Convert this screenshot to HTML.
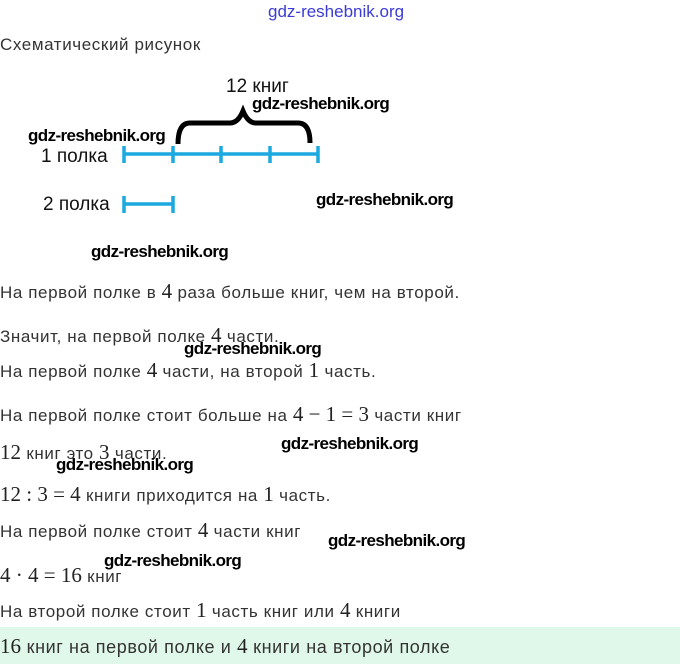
<!DOCTYPE html>
<html><head><meta charset="utf-8"><style>
body{margin:0;width:680px;height:664px;background:#fff;position:relative;overflow:hidden;font-family:"Liberation Sans","DejaVu Sans",sans-serif;color:#333}
.t{position:absolute;left:0;font-size:17px;letter-spacing:0.6px;white-space:nowrap;line-height:20px}
.m{font-family:"Liberation Serif","DejaVu Serif",serif;font-size:21px;color:#222;letter-spacing:0}
.w{position:absolute;font-family:"Liberation Sans",sans-serif;font-size:17px;font-weight:bold;color:#000;white-space:nowrap;line-height:20px;letter-spacing:-0.6px}
.d{position:absolute;font-size:19px;color:#111;white-space:nowrap;line-height:20px}
</style></head><body>
<div class="w" style="left:268px;top:2px;color:#3b3bd6;font-weight:normal;letter-spacing:0">gdz-reshebnik.org</div>
<div class="t" style="top:35px">Схематический рисунок</div>
<div class="d" style="left:226px;top:77px">12 книг</div>
<div class="w" style="left:252px;top:94px">gdz-reshebnik.org</div>
<div class="w" style="left:28px;top:126px">gdz-reshebnik.org</div>
<div class="d" style="left:41px;top:147px">1 полка</div>
<div class="d" style="left:43px;top:195px">2 полка</div>
<div class="w" style="left:316px;top:190px">gdz-reshebnik.org</div>
<div class="w" style="left:91px;top:242px">gdz-reshebnik.org</div>
<svg style="position:absolute;left:0;top:0" width="680" height="664">
<g stroke="#1ba9e0" stroke-width="3.5" fill="none">
<line x1="123" y1="154" x2="318" y2="154"/>
<line x1="124" y1="146" x2="124" y2="163"/>
<line x1="173" y1="146" x2="173" y2="163"/>
<line x1="221" y1="146" x2="221" y2="163"/>
<line x1="270" y1="146" x2="270" y2="163"/>
<line x1="318" y1="146" x2="318" y2="163"/>
<line x1="123" y1="204" x2="173" y2="204"/>
<line x1="124" y1="196" x2="124" y2="213"/>
<line x1="173" y1="196" x2="173" y2="213"/>
</g>
<path d="M178 144 Q178 123 190 123 L230 123 Q238 123 243 111 Q248 123 256 123 L298 123 Q310 123 310 143" stroke="#000" stroke-width="5" fill="none"/>
</svg>
<div class="t" style="top:281px">На первой полке в <span class="m">4</span> раза больше книг, чем на второй.</div>
<div class="t" style="top:325px">Значит, на первой полке <span class="m">4</span> части.</div>
<div class="w" style="left:184px;top:339px">gdz-reshebnik.org</div>
<div class="t" style="top:360px">На первой полке <span class="m">4</span> части, на второй <span class="m">1</span> часть.</div>
<div class="t" style="top:404px">На первой полке стоит больше на <span class="m">4 − 1 = 3</span> части книг</div>
<div class="t" style="top:442px"><span class="m">12</span> книг это <span class="m">3</span> части.</div>
<div class="w" style="left:281px;top:434px">gdz-reshebnik.org</div>
<div class="w" style="left:56px;top:455px">gdz-reshebnik.org</div>
<div class="t" style="top:484px"><span class="m">12 : 3 = 4</span> книги приходится на <span class="m">1</span> часть.</div>
<div class="t" style="top:520px">На первой полке стоит <span class="m">4</span> части книг</div>
<div class="w" style="left:328px;top:531px">gdz-reshebnik.org</div>
<div class="w" style="left:104px;top:551px">gdz-reshebnik.org</div>
<div class="t" style="top:565px"><span class="m">4 · 4 = 16</span> книг</div>
<div class="t" style="top:600px">На второй полке стоит <span class="m">1</span> часть книг или <span class="m">4</span> книги</div>
<div style="position:absolute;left:0;top:627px;width:680px;height:37px;background:#e0f8e9"></div>
<div class="t" style="top:636px;font-size:18px"><span class="m">16</span> книг на первой полке и <span class="m">4</span> книги на второй полке</div>
</body></html>
